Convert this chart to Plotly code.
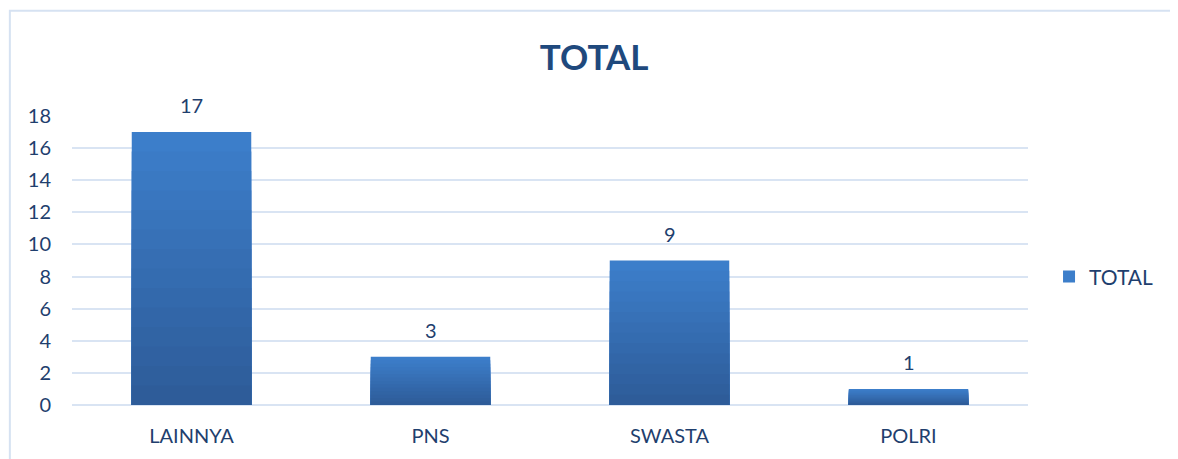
import plotly.graph_objects as go

categories = ["LAINNYA", "PNS", "SWASTA", "POLRI"]
values = [17, 3, 9, 1]
series_name = "TOTAL"
y_ticks = [0, 2, 4, 6, 8, 10, 12, 14, 16, 18]

FONT = "Lato"
TEXT_COL = "#1F3F6E"
TOP_RGB = (60, 126, 202)
BOT_RGB = (46, 92, 153)
STEPS = 14

fig = go.Figure()
# gradient bars: overlay progressively shorter, darker bars
for k in range(STEPS):
    frac = 1 - k / STEPS
    t = k / (STEPS - 1)
    r = round(TOP_RGB[0] + (BOT_RGB[0] - TOP_RGB[0]) * t)
    g = round(TOP_RGB[1] + (BOT_RGB[1] - TOP_RGB[1]) * t)
    b = round(TOP_RGB[2] + (BOT_RGB[2] - TOP_RGB[2]) * t)
    fig.add_trace(go.Bar(
        x=categories, y=[v * frac for v in values],
        name=series_name, showlegend=(k == 0),
        marker=dict(color=f"rgb({r},{g},{b})", line=dict(width=0)),
        hoverinfo="skip" if k else None,
    ))

for c, v in zip(categories, values):
    fig.add_annotation(x=c, y=v, text=str(v), showarrow=False, yanchor="bottom",
                       yshift=13, font=dict(family=FONT, size=20, color=TEXT_COL))

# outer chart border
fig.add_shape(type="rect", xref="paper", yref="paper",
              x0=-0.065, x1=1.2, y0=-0.5, y1=1.364,
              line=dict(color="#D6E2F2", width=2), fillcolor="rgba(0,0,0,0)", layer="below")

fig.update_layout(
    width=1170, height=451,
    margin=dict(l=64, r=150, t=108, b=52),
    paper_bgcolor="white", plot_bgcolor="white",
    barmode="overlay", bargap=0.5,
    title=dict(text="<b>TOTAL</b>", x=0.501, xanchor="center", y=0.889, yanchor="middle",
               font=dict(family=FONT, size=35, color="#1F497D")),
    font=dict(family=FONT, color=TEXT_COL),
    legend=dict(x=1.022, y=0.443, xanchor="left", yanchor="middle",
                font=dict(family=FONT, size=21, color=TEXT_COL), itemwidth=30),
    xaxis=dict(showgrid=False, showline=False, zeroline=False,
               tickfont=dict(family=FONT, size=20, color=TEXT_COL), ticklabelstandoff=17),
    yaxis=dict(range=[0, 18], tickvals=y_ticks, showgrid=True, gridcolor="#D9E4F3", gridwidth=2,
               zeroline=True, zerolinecolor="#D9E4F3", zerolinewidth=2, showline=False,
               tickfont=dict(family=FONT, size=20, color=TEXT_COL), ticklabelstandoff=20),
)

fig.write_html("out.html")
